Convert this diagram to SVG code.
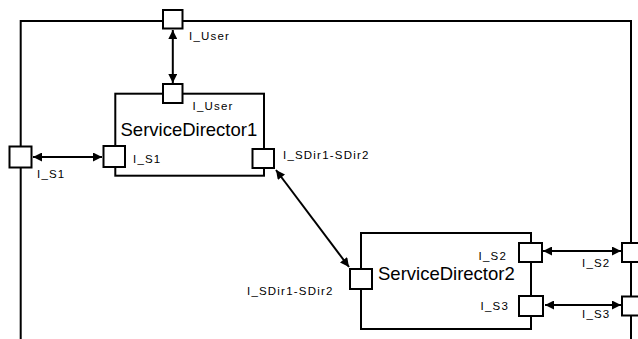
<svg xmlns="http://www.w3.org/2000/svg" width="638" height="339" viewBox="0 0 638 339">
<defs>
<marker id="ah" viewBox="0 0 10 10" refX="10" refY="5" markerWidth="4.8" markerHeight="4.5" orient="auto-start-reverse" markerUnits="strokeWidth">
<path d="M0,0 L10,5 L0,10 z" fill="#000"/>
</marker>
<style>
.box{fill:#fff;stroke:#000;stroke-width:2}
.port{fill:#fff;stroke:#000;stroke-width:2}
.conn{stroke:#000;stroke-width:2;fill:none;marker-start:url(#ah);marker-end:url(#ah)}
.lbl{font-family:"Liberation Sans",Arial,sans-serif;font-size:11.5px;letter-spacing:1.2px;fill:#000}
.title{font-family:"Liberation Sans",Arial,sans-serif;font-size:18.5px;fill:#000}
</style>
</defs>
<rect width="638" height="339" fill="#fff"/>
<g id="frame">
<path d="M20.7,339 V21 H631 V339" fill="none" stroke="#000" stroke-width="2"/>
<rect class="port" x="163" y="10" width="19.5" height="18.5"/>
<text class="lbl" x="189" y="40">I_User</text>
<rect class="port" x="9.5" y="146.5" width="22" height="21"/>
<text class="lbl" x="37" y="178">I_S1</text>
<rect class="port" x="622" y="243" width="22" height="19"/>
<text class="lbl" x="582" y="267">I_S2</text>
<rect class="port" x="622" y="296.5" width="22" height="19"/>
<text class="lbl" x="582" y="318">I_S3</text>
</g>
<g id="ServiceDirector1">
<rect class="box" x="115.3" y="93.7" width="148.7" height="82"/>
<text class="title" x="120.5" y="136">ServiceDirector1</text>
<rect class="port" x="163" y="84" width="19.5" height="19"/>
<text class="lbl" x="192.5" y="110">I_User</text>
<rect class="port" x="103.5" y="146" width="21.5" height="21"/>
<text class="lbl" x="133" y="163">I_S1</text>
<rect class="port" x="252.5" y="149" width="21.5" height="19"/>
<text class="lbl" x="283" y="159">I_SDir1-SDir2</text>
</g>
<g id="ServiceDirector2">
<rect class="box" x="361" y="233" width="170" height="96"/>
<text class="title" x="378" y="280">ServiceDirector2</text>
<rect class="port" x="350" y="269" width="22" height="20"/>
<text class="lbl" x="247" y="295">I_SDir1-SDir2</text>
<rect class="port" x="519" y="243" width="23" height="19"/>
<text class="lbl" x="507" y="260" text-anchor="end">I_S2</text>
<rect class="port" x="519" y="296" width="24" height="20"/>
<text class="lbl" x="509" y="310" text-anchor="end">I_S3</text>
</g>
<g id="connectors">
<line class="conn" x1="172.8" y1="30" x2="172.8" y2="83"/>
<line class="conn" x1="33" y1="157" x2="102" y2="157"/>
<line class="conn" x1="276" y1="170" x2="349" y2="267"/>
<line class="conn" x1="543" y1="251" x2="621" y2="251"/>
<line class="conn" x1="545" y1="305" x2="621" y2="305"/>
</g>
</svg>
